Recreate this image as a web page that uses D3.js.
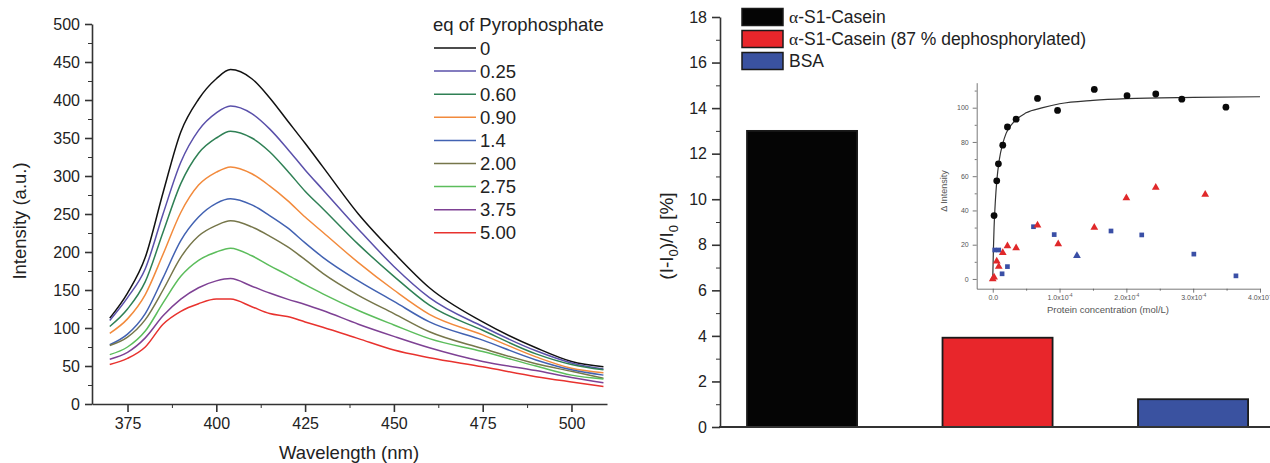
<!DOCTYPE html>
<html>
<head>
<meta charset="utf-8">
<script src="https://cdn.jsdelivr.net/npm/d3@7"></script>
<style>
  body { margin: 0; background: #fff; }
  svg { display: block; font-family: "Liberation Sans", Arial, sans-serif; }
  .axis path, .axis line { stroke: #333; }
  .axis text { fill: #222; }
</style>
</head>
<body>
<div id="chart"></div>
<script>
// ---- left panel: emission spectra ----
const wavelengths = [370, 375, 380, 385, 390, 395, 400, 404, 410, 415, 420, 425, 430, 440, 450, 460, 475, 490, 500, 509];
const eqLabels = ["0", "0.25", "0.60", "0.90", "1.4", "2.00", "2.75", "3.75", "5.00"];
const eqColors = ["#111111", "#5a50aa", "#2f8055", "#f28a3c", "#4262b2", "#76764a", "#5cbd5c", "#7e4194", "#e8322e"];
const spectra = [
  [113, 146, 193, 278, 358, 401, 428, 440, 428, 403, 373, 343, 312, 250, 199, 153, 108, 74, 56, 49],
  [110, 140, 178, 250, 318, 360, 383, 392, 382, 362, 336, 308, 282, 230, 181, 140, 102, 70, 54, 46],
  [102, 125, 161, 226, 290, 330, 350, 359, 350, 332, 307, 280, 257, 210, 168, 130, 97, 66, 52, 45],
  [93, 112, 144, 197, 252, 288, 305, 312, 303, 287, 268, 246, 226, 186, 150, 118, 91, 62, 47, 41],
  [78, 92, 119, 166, 215, 246, 264, 270, 262, 248, 232, 212, 193, 162, 135, 108, 84, 58, 45, 38],
  [77, 88, 111, 150, 193, 221, 235, 241, 233, 221, 207, 190, 172, 143, 119, 95, 73, 53, 43, 34],
  [65, 75, 96, 133, 168, 189, 200, 205, 195, 182, 170, 157, 145, 123, 104, 86, 69, 50, 38, 33],
  [59, 68, 87, 116, 138, 153, 162, 165, 155, 146, 138, 131, 123, 105, 89, 74, 56, 44, 35, 28],
  [52, 60, 75, 105, 122, 132, 138, 138, 128, 119, 115, 108, 101, 86, 71, 61, 49, 36, 29, 23]
];

// ---- right panel: bars ----
const proteins = ["α-S1-Casein", "α-S1-Casein (87 % dephosphorylated)", "BSA"];
const barValues = [13.0, 3.92, 1.22];
const barColors = ["#050505", "#e8262b", "#3a52a0"];

// ---- inset: titration (x in units of 1e-4 mol/L) ----
const caseinX = [0.02, 0.06, 0.085, 0.15, 0.22, 0.35, 0.67, 0.97, 1.52, 2.01, 2.44, 2.83, 3.49];
const caseinY = [37, 57.3, 67.2, 78.1, 88.8, 93.3, 105.4, 98.4, 110.7, 107, 108, 105, 100.3];
const fitX = [0, 0.01, 0.02, 0.04, 0.06, 0.1, 0.15, 0.2, 0.3, 0.5, 0.75, 1.0, 1.5, 2.0, 3.0, 4.0];
const fitY = [0, 17, 30, 46, 57, 70, 79, 85, 91, 97, 100, 102.3, 104.3, 105.3, 106, 106.4];
const dephosX = [0.0, 0.02, 0.06, 0.09, 0.15, 0.22, 0.35, 0.67, 0.98, 1.52, 2.0, 2.44, 3.18];
const dephosY = [0, 1, 10.3, 7.2, 15.3, 19.3, 18.1, 31.3, 20.4, 30.1, 47.3, 53.4, 49.3];
const bsaX = [0.03, 0.09, 0.14, 0.22, 0.61, 0.92, 1.77, 2.23, 3.01, 3.64];
const bsaY = [16.9, 16.9, 3, 7.2, 30.5, 25.9, 28, 25.7, 14.5, 1.8];
const bsaTriX = [1.26];
const bsaTriY = [13.6];

const svg = d3.select("#chart").append("svg")
    .attr("width", 1270)
    .attr("height", 463);

// ================= left panel =================
const x = d3.scaleLinear().domain([365, 510]).range([92, 607]);
const y = d3.scaleLinear().domain([0, 500]).range([404, 24]);

const line = d3.line()
    .x(function (d) { return x(d[0]); })
    .y(function (d) { return y(d[1]); })
    .curve(d3.curveMonotoneX);

spectra.forEach(function (s, i) {
    svg.append("path")
        .datum(wavelengths.map(function (w, j) { return [w, s[j]]; }))
        .attr("fill", "none")
        .attr("stroke", eqColors[i])
        .attr("stroke-width", 1.5)
        .attr("d", line);
});

// minor ticks first, major on top
svg.append("g").attr("class", "axis")
    .attr("transform", "translate(92,0)")
    .call(d3.axisLeft(y).tickValues(d3.range(25, 500, 50)).tickSize(4).tickFormat(""))
    .select(".domain").remove();
svg.append("g").attr("class", "axis")
    .attr("transform", "translate(0,404)")
    .call(d3.axisBottom(x).tickValues(d3.range(387.5, 510, 25)).tickSize(4).tickFormat(""))
    .select(".domain").remove();

const yAxisL = svg.append("g").attr("class", "axis")
    .attr("transform", "translate(92,0)")
    .call(d3.axisLeft(y).tickValues(d3.range(0, 501, 50)).tickSize(7).tickSizeOuter(0).tickPadding(5));
const xAxisL = svg.append("g").attr("class", "axis")
    .attr("transform", "translate(0,404)")
    .call(d3.axisBottom(x).tickValues(d3.range(375, 501, 25)).tickSize(8).tickSizeOuter(0).tickPadding(6));
[yAxisL, xAxisL].forEach(function (g) {
    g.selectAll("path, line").attr("stroke-width", 1.6);
    g.selectAll("text").attr("font-size", 16);
});

svg.append("text")
    .attr("transform", "translate(26,221) rotate(-90)")
    .attr("text-anchor", "middle")
    .attr("font-size", 18.5)
    .attr("fill", "#222")
    .text("Intensity (a.u.)");
svg.append("text")
    .attr("x", 349)
    .attr("y", 459)
    .attr("text-anchor", "middle")
    .attr("font-size", 18.5)
    .attr("fill", "#222")
    .text("Wavelength (nm)");

// legend
const legL = svg.append("g");
legL.append("text")
    .attr("x", 433).attr("y", 31)
    .attr("font-size", 18.5)
    .attr("fill", "#222")
    .text("eq of Pyrophosphate");
eqLabels.forEach(function (lab, i) {
    const cy = 48 + i * 23.1;
    legL.append("line")
        .attr("x1", 434).attr("x2", 476)
        .attr("y1", cy).attr("y2", cy)
        .attr("stroke", eqColors[i])
        .attr("stroke-width", 1.5);
    legL.append("text")
        .attr("x", 480).attr("y", cy + 6.5)
        .attr("font-size", 18.5)
        .attr("fill", "#222")
        .text(lab);
});

// ================= right panel =================
const yb = d3.scaleLinear().domain([0, 18]).range([427, 17]);
const xb = d3.scaleBand().domain(proteins).range([704.3, 1290.8]).paddingInner(0.437).paddingOuter(0.2185);

svg.selectAll(".bar")
    .data(barValues)
    .enter().append("rect")
    .attr("class", "bar")
    .attr("x", function (d, i) { return xb(proteins[i]); })
    .attr("width", xb.bandwidth())
    .attr("y", function (d) { return yb(d); })
    .attr("height", function (d) { return yb(0) - yb(d); })
    .attr("fill", function (d, i) { return barColors[i]; })
    .attr("stroke", "#1a1a1a")
    .attr("stroke-width", 1.8);

svg.append("g").attr("class", "axis")
    .attr("transform", "translate(720,0)")
    .call(d3.axisLeft(yb).tickValues(d3.range(1, 18, 2)).tickSize(4).tickFormat(""))
    .select(".domain").remove();
const yAxisR = svg.append("g").attr("class", "axis")
    .attr("transform", "translate(720,0)")
    .call(d3.axisLeft(yb).tickValues(d3.range(0, 19, 2)).tickSize(8).tickSizeOuter(0).tickPadding(5));
yAxisR.selectAll("path, line").attr("stroke-width", 1.6);
yAxisR.selectAll("text").attr("font-size", 16);

svg.append("line")
    .attr("x1", 719).attr("x2", 1270)
    .attr("y1", yb(0)).attr("y2", yb(0))
    .attr("stroke", "#333")
    .attr("stroke-width", 1.8);

const yTitle = svg.append("text")
    .attr("transform", "translate(673,236) rotate(-90)")
    .attr("text-anchor", "middle")
    .attr("font-size", 19)
    .attr("fill", "#222");
yTitle.append("tspan").text("(I-I");
yTitle.append("tspan").attr("font-size", 13).attr("dy", 5).text("0");
yTitle.append("tspan").attr("dy", -5).text(")/I");
yTitle.append("tspan").attr("font-size", 13).attr("dy", 5).text("0");
yTitle.append("tspan").attr("dy", -5).text(" [%]");

// legend
proteins.forEach(function (p, i) {
    const cy = 17 + i * 22;
    svg.append("rect")
        .attr("x", 742).attr("y", cy - 8.5)
        .attr("width", 41).attr("height", 17)
        .attr("fill", barColors[i])
        .attr("stroke", "#1a1a1a")
        .attr("stroke-width", 1.5);
    const t = svg.append("text")
        .attr("x", 789).attr("y", cy + 6)
        .attr("font-size", 17.5)
        .attr("fill", "#222");
    if (p.charAt(0) === "α") {
        t.append("tspan").attr("font-family", "'Liberation Serif', serif").text("α");
        t.append("tspan").text(p.slice(1));
    } else {
        t.text(p);
    }
});

// ================= inset =================
const xi = d3.scaleLinear().domain([-0.24, 4.0]).range([976.7, 1260]);
const yi = d3.scaleLinear().domain([-5.7, 114.6]).range([288.7, 82.7]);
const inset = svg.append("g");

function insetAxis(g) {
    g.selectAll("path, line").attr("stroke", "#555").attr("stroke-width", 0.8);
    g.selectAll("text").attr("font-size", 7).attr("fill", "#555");
}
inset.append("g")
    .attr("transform", "translate(976.7,0)")
    .call(d3.axisLeft(yi).tickValues(d3.range(10, 111, 20)).tickSize(2).tickFormat(""))
    .call(insetAxis)
    .select(".domain").remove();
inset.append("g")
    .attr("transform", "translate(0,288.7)")
    .call(d3.axisBottom(xi).tickValues(d3.range(0.5, 4, 1)).tickSize(2).tickFormat(""))
    .call(insetAxis)
    .select(".domain").remove();
inset.append("g")
    .attr("transform", "translate(976.7,0)")
    .call(d3.axisLeft(yi).tickValues(d3.range(0, 101, 20)).tickSize(4).tickSizeOuter(0).tickPadding(4))
    .call(insetAxis);
const xAxisI = inset.append("g")
    .attr("transform", "translate(0,288.7)")
    .call(d3.axisBottom(xi).tickValues([0, 1, 2, 3, 4]).tickSize(4).tickSizeOuter(0).tickPadding(2)
        .tickFormat(function (d) { return d === 0 ? "0.0" : d3.format(".1f")(d) + "x10"; }))
    .call(insetAxis);
xAxisI.selectAll(".tick text")
    .filter(function (d) { return d !== 0; })
    .append("tspan")
    .attr("font-size", 4.5)
    .attr("dy", -3)
    .text("-4");

inset.append("text")
    .attr("transform", "translate(947,191) rotate(-90)")
    .attr("text-anchor", "middle")
    .attr("font-size", 9)
    .attr("fill", "#555")
    .text("Δ Intensity");
inset.append("text")
    .attr("x", 1108).attr("y", 313)
    .attr("text-anchor", "middle")
    .attr("font-size", 9.5)
    .attr("fill", "#555")
    .text("Protein concentration (mol/L)");

// fitted curve
inset.append("path")
    .datum(fitX.map(function (v, i) { return [v, fitY[i]]; }))
    .attr("fill", "none")
    .attr("stroke", "#333")
    .attr("stroke-width", 1.2)
    .attr("d", d3.line()
        .x(function (d) { return xi(d[0]); })
        .y(function (d) { return yi(d[1]); })
        .curve(d3.curveMonotoneX));

const sym = d3.symbol();
function scatter(xs, ys, type, size, color) {
    inset.selectAll(null)
        .data(xs)
        .enter().append("path")
        .attr("transform", function (d, i) { return "translate(" + xi(d) + "," + yi(ys[i]) + ")"; })
        .attr("d", sym.type(type).size(size)())
        .attr("fill", color);
}
scatter(bsaX, bsaY, d3.symbolSquare, 22, "#3a4fa6");
scatter(bsaTriX, bsaTriY, d3.symbolTriangle, 26, "#3a4fa6");
scatter(dephosX, dephosY, d3.symbolTriangle, 26, "#e0282a");
scatter(caseinX, caseinY, d3.symbolCircle, 36, "#0a0a0a");
</script>
</body>
</html>
